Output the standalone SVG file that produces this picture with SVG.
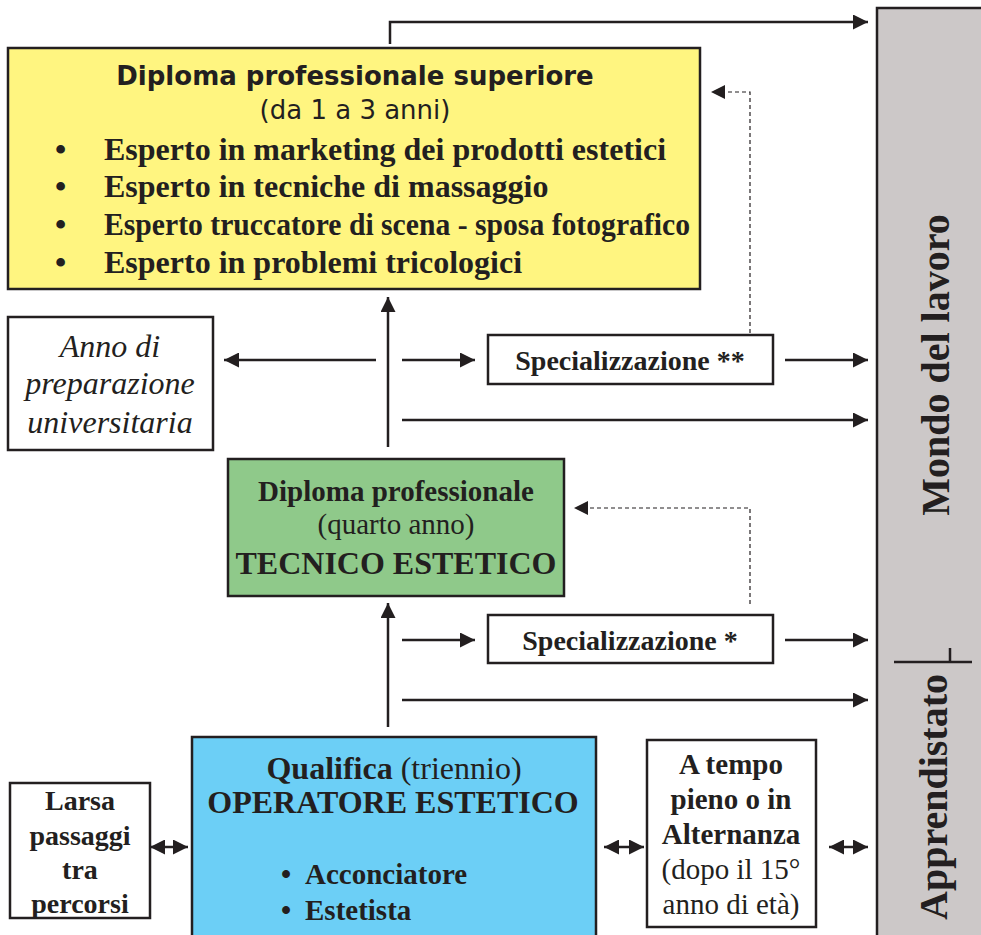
<svg xmlns="http://www.w3.org/2000/svg" width="981" height="935" viewBox="0 0 981 935">
<style>
.box{stroke:#231f20;stroke-width:2.5}
.ln{stroke:#231f20;stroke-width:2.5;fill:none}
.dash{stroke:#231f20;stroke-width:1.2;fill:none;stroke-dasharray:4 3}
.t{font-family:"Liberation Serif","Times New Roman",serif;fill:#231f20;text-anchor:middle}
.b{font-weight:bold}
.s{font-family:"DejaVu Sans",Tahoma,sans-serif;fill:#231f20;text-anchor:middle}
</style>
<defs>
<marker id="ah" viewBox="0 0 10 10" refX="10" refY="5" markerWidth="6" markerHeight="6" orient="auto-start-reverse" markerUnits="strokeWidth">
<path d="M0,0 L10,5 L0,10 z" fill="#231f20"/>
</marker>
<marker id="ahs" viewBox="0 0 10 10" refX="10" refY="5" markerWidth="12" markerHeight="12" orient="auto-start-reverse" markerUnits="strokeWidth">
<path d="M0,0 L10,5 L0,10 z" fill="#231f20"/>
</marker>
</defs>

<g id="mondo">
<rect x="877" y="8" width="110" height="935" fill="#ccc8c8" class="box"/>
<line x1="894" y1="662" x2="972" y2="662" class="ln"/>
<line x1="950" y1="648" x2="950" y2="662" class="ln"/>
<text class="t b" font-size="40" transform="translate(949,365) rotate(-90)">Mondo del lavoro</text>
<text class="t b" font-size="40" transform="translate(947,797) rotate(-90)">Apprendistato</text>
</g>

<g id="dps">
<rect x="8" y="48" width="692" height="241" fill="#fff580" class="box"/>
<text class="s b" x="355" y="85" font-size="26">Diploma professionale superiore</text>
<text class="s" x="355" y="119" font-size="26">(da 1 a 3 anni)</text>
<g class="t b" font-size="32" style="text-anchor:start">
<text x="55" y="160">•</text><text x="104" y="160">Esperto in marketing dei prodotti estetici</text>
<text x="55" y="197">•</text><text x="104" y="197">Esperto in tecniche di massaggio</text>
<text x="55" y="235">•</text><text x="104" y="235" textLength="586" lengthAdjust="spacingAndGlyphs">Esperto truccatore di scena - sposa fotografico</text>
<text x="55" y="273">•</text><text x="104" y="273">Esperto in problemi tricologici</text>
</g>
</g>

<g id="anno">
<rect x="8" y="317" width="205" height="133" fill="#fff" class="box"/>
<text class="t" font-style="italic" font-size="32" x="110" y="357">Anno di</text>
<text class="t" font-style="italic" font-size="32" x="110" y="394">preparazione</text>
<text class="t" font-style="italic" font-size="32" x="110" y="433">universitaria</text>
</g>

<g id="spec2">
<rect x="488" y="335" width="285" height="49" fill="#fff" class="box"/>
<text class="t b" font-size="28" x="630" y="370">Specializzazione **</text>
</g>

<g id="dp">
<rect x="228" y="459" width="336" height="137" fill="#8fc98a" class="box"/>
<text class="t b" font-size="29" x="396" y="501">Diploma professionale</text>
<text class="t" font-size="29" x="396" y="534">(quarto anno)</text>
<text class="t b" font-size="32" x="396" y="574">TECNICO ESTETICO</text>
</g>

<g id="spec1">
<rect x="488" y="615" width="285" height="48" fill="#fff" class="box"/>
<text class="t b" font-size="28" x="630" y="650">Specializzazione *</text>
</g>

<g id="qual">
<rect x="192" y="737" width="404" height="205" fill="#6ccff6" class="box"/>
<text class="t" font-size="32" x="394" y="779"><tspan font-weight="bold">Qualifica</tspan> (triennio)</text>
<text class="t b" font-size="32" x="393" y="813">OPERATORE ESTETICO</text>
<g class="t b" font-size="29" style="text-anchor:start">
<text x="281" y="884">•</text><text x="305" y="884">Acconciatore</text>
<text x="281" y="920">•</text><text x="305" y="920">Estetista</text>
</g>
</g>

<g id="larsa">
<rect x="10" y="783" width="140" height="135" fill="#fff" class="box"/>
<text class="t b" font-size="28" x="80" y="810">Larsa</text>
<text class="t b" font-size="28" x="80" y="845">passaggi</text>
<text class="t b" font-size="28" x="80" y="879">tra</text>
<text class="t b" font-size="28" x="80" y="913">percorsi</text>
</g>

<g id="tempo">
<rect x="647" y="740" width="169" height="187" fill="#fff" class="box"/>
<text class="t b" font-size="29" x="731" y="774">A tempo</text>
<text class="t b" font-size="29" x="731" y="809">pieno o in</text>
<text class="t b" font-size="29" x="731" y="844">Alternanza</text>
<text class="t" font-size="29" x="731" y="879">(dopo il 15°</text>
<text class="t" font-size="29" x="731" y="914">anno di età)</text>
</g>

<g id="connectors">
<polyline points="390,44 390,22 868,22" class="ln" marker-end="url(#ah)"/>
<polyline points="750,333 750,92 711,92" class="dash" marker-end="url(#ahs)"/>
<line x1="388" y1="447" x2="388" y2="297" class="ln" marker-end="url(#ah)"/>
<line x1="376" y1="360" x2="224" y2="360" class="ln" marker-end="url(#ah)"/>
<line x1="402" y1="360" x2="475" y2="360" class="ln" marker-end="url(#ah)"/>
<line x1="785" y1="360" x2="868" y2="360" class="ln" marker-end="url(#ah)"/>
<line x1="402" y1="420" x2="868" y2="420" class="ln" marker-end="url(#ah)"/>
<polyline points="750,604 750,508 574,508" class="dash" marker-end="url(#ahs)"/>
<line x1="388" y1="727" x2="388" y2="603" class="ln" marker-end="url(#ah)"/>
<line x1="402" y1="640" x2="475" y2="640" class="ln" marker-end="url(#ah)"/>
<line x1="785" y1="640" x2="868" y2="640" class="ln" marker-end="url(#ah)"/>
<line x1="402" y1="700" x2="868" y2="700" class="ln" marker-end="url(#ah)"/>
<line x1="150" y1="847" x2="188" y2="847" class="ln" marker-start="url(#ah)" marker-end="url(#ah)"/>
<line x1="604" y1="847" x2="644" y2="847" class="ln" marker-start="url(#ah)" marker-end="url(#ah)"/>
<line x1="829" y1="847" x2="868" y2="847" class="ln" marker-start="url(#ah)" marker-end="url(#ah)"/>
</g>
</svg>
